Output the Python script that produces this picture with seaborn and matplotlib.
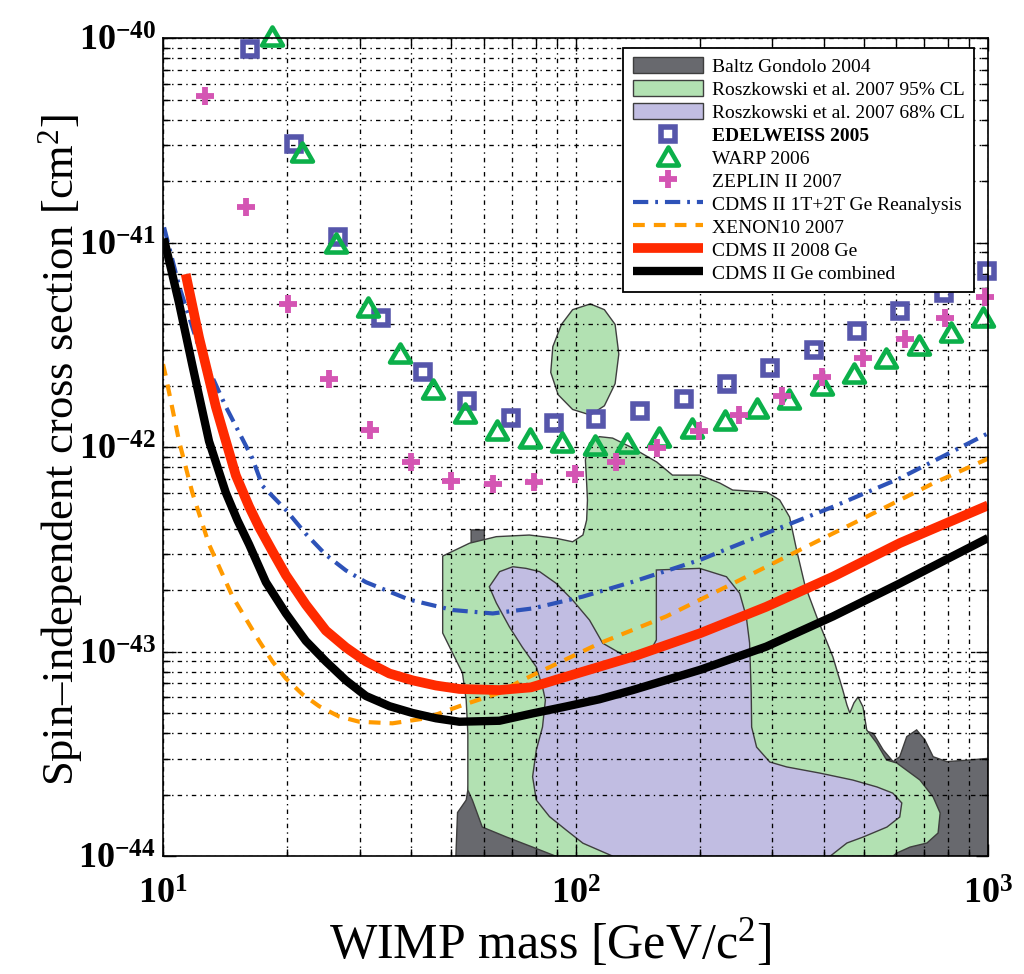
import numpy as np
import matplotlib
matplotlib.use("Agg")
import matplotlib.pyplot as plt
import seaborn as sns
from matplotlib.path import Path
from matplotlib.markers import MarkerStyle
from matplotlib.ticker import FixedLocator, NullFormatter, LogLocator

plt.rcParams['font.family'] = ['Liberation Serif', 'DejaVu Serif']
plt.rcParams['mathtext.fontset'] = 'custom'
plt.rcParams['mathtext.rm'] = 'Liberation Serif'
plt.rcParams['mathtext.it'] = 'Liberation Serif:italic'
plt.rcParams['mathtext.bf'] = 'Liberation Serif:bold'
plt.rcParams['lines.scale_dashes'] = False
plt.rcParams['axes.axisbelow'] = 'line'

# ---------------- data ----------------
# Excluded / favoured regions, vertices as log10(mass [GeV]) and log10(sigma [cm^2])
baltz_log_mass = [1.710, 1.714, 1.735, 1.743, 1.747, 1.747, 1.779, 1.779, 2.058, 2.641, 2.697,
                  2.722, 2.746, 2.770, 2.786, 2.803, 2.827, 2.847, 2.867, 2.900, 2.956, 3.0, 3.0]
baltz_log_sigma = [-44.0, -43.786, -43.725, -43.627, -42.478, -42.404, -42.404, -42.551, -43.236,
                   -43.407, -43.382, -43.399, -43.480, -43.537, -43.513, -43.415, -43.382, -43.431,
                   -43.513, -43.537, -43.529, -43.521, -44.0]

rosz95_log_mass = [1.678, 1.743, 1.808, 1.888, 1.953, 1.993, 2.018, 2.027, 2.029, 2.027, 2.024,
                   2.034, 2.058, 2.090, 2.138, 2.197, 2.235, 2.301, 2.350, 2.381, 2.464, 2.495,
                   2.519, 2.536, 2.556, 2.585, 2.624, 2.648, 2.658, 2.665, 2.675, 2.685, 2.697,
                   2.706, 2.730, 2.754, 2.779, 2.835, 2.867, 2.884, 2.879, 2.852, 2.811, 2.779,
                   2.769, 1.953, 1.896, 1.833, 1.774, 1.750, 1.739, 1.739, 1.735, 1.726, 1.678]
rosz95_log_sigma = [-42.532, -42.469, -42.437, -42.429, -42.445, -42.462, -42.429, -42.356, -42.258,
                    -42.175, -42.062, -41.979, -41.948, -41.955, -42.003, -42.072, -42.136, -42.136,
                    -42.175, -42.209, -42.219, -42.258, -42.341, -42.502, -42.673, -42.830, -43.025,
                    -43.187, -43.260, -43.299, -43.250, -43.221, -43.270, -43.382, -43.446, -43.529,
                    -43.544, -43.627, -43.710, -43.788, -43.886, -43.935, -43.955, -43.984, -44.0,
                    -44.0, -43.955, -43.906, -43.857, -43.725, -43.676, -43.397, -43.236, -43.104,
                    -42.908]
rosz95_island_log_mass = [1.940, 1.945, 1.966, 1.993, 2.036, 2.070, 2.096, 2.105, 2.096, 2.070,
                          2.036, 1.993, 1.958]
rosz95_island_log_sigma = [-41.634, -41.508, -41.399, -41.327, -41.299, -41.327, -41.399, -41.544,
                           -41.689, -41.797, -41.842, -41.815, -41.743]

rosz68_log_mass = [1.791, 1.816, 1.848, 1.880, 1.913, 1.953, 1.993, 2.034, 2.066, 2.123, 2.180,
                   2.196, 2.196, 2.301, 2.366, 2.398, 2.414, 2.422, 2.426, 2.427, 2.439, 2.471,
                   2.512, 2.592, 2.672, 2.731, 2.769, 2.791, 2.786, 2.755, 2.697, 2.658, 2.617,
                   2.091, 2.018, 1.977, 1.937, 1.905, 1.896, 1.905, 1.920, 1.927, 1.920, 1.905,
                   1.871, 1.840, 1.808]
rosz68_log_sigma = [-42.682, -42.608, -42.584, -42.592, -42.608, -42.665, -42.747, -42.845, -42.958,
                    -43.024, -43.001, -42.942, -42.600, -42.592, -42.633, -42.714, -42.828, -42.957,
                    -43.202, -43.368, -43.466, -43.539, -43.563, -43.593, -43.627, -43.661, -43.691,
                    -43.739, -43.808, -43.857, -43.906, -43.935, -44.0, -44.0, -43.936, -43.871,
                    -43.806, -43.725, -43.611, -43.480, -43.368, -43.236, -43.172, -43.074, -42.977,
                    -42.879, -42.761]

# Experimental limits (points)
edelweiss_mass = [16.23, 20.8, 26.49, 33.77, 42.76, 54.46, 69.8, 88.5, 112.3, 143.6, 183.2, 232.7,
                  295.8, 378.0, 481.3, 611.6, 783.3, 994.5]
edelweiss_sigma = [8.84e-41, 3.04e-41, 1.07e-41, 4.30e-42, 2.34e-42, 1.69e-42, 1.39e-42, 1.32e-42,
                   1.38e-42, 1.50e-42, 1.73e-42, 2.03e-42, 2.44e-42, 3.00e-42, 3.70e-42, 4.62e-42,
                   5.68e-42, 7.28e-42]

warp_mass = [18.36, 21.78, 26.26, 31.33, 37.54, 45.10, 53.99, 64.69, 77.56, 92.8, 111.2, 133.0,
             159.7, 191.8, 229.8, 275.0, 328.9, 395.5, 473.8, 566.8, 679.2, 811.8, 972.5]
warp_sigma = [1.03e-40, 2.79e-41, 9.94e-42, 4.87e-42, 2.88e-42, 1.92e-42, 1.47e-42, 1.22e-42,
              1.11e-42, 1.06e-42, 1.03e-42, 1.05e-42, 1.12e-42, 1.24e-42, 1.36e-42, 1.56e-42,
              1.73e-42, 2.01e-42, 2.32e-42, 2.74e-42, 3.17e-42, 3.67e-42, 4.34e-42]

zeplin_mass = [12.65, 15.93, 20.04, 25.19, 31.72, 39.93, 49.89, 63.07, 79.35, 99.56, 125.6, 158.0,
               198.7, 249.5, 315.9, 395.8, 498.0, 628.8, 788.0, 985.6]
zeplin_sigma = [5.22e-41, 1.50e-41, 5.01e-42, 2.16e-42, 1.21e-42, 8.47e-43, 6.87e-43, 6.63e-43,
                6.79e-43, 7.39e-43, 8.49e-43, 9.89e-43, 1.20e-42, 1.44e-42, 1.78e-42, 2.21e-42,
                2.72e-42, 3.40e-42, 4.28e-42, 5.46e-42]

# Experimental limits (curves)
cdms_reana_mass = [10.06, 10.94, 12.23, 14.2, 16.47, 17.42, 19.86, 22.2, 24.82, 27.76, 31.05, 39.5,
                   50.4, 63.0, 78.8, 104.0, 137.7, 200.0, 290.0, 421.0, 611.0, 1000.0]
cdms_reana_sigma = [1.19e-41, 6.15e-42, 3.06e-42, 1.58e-42, 8.83e-43, 6.48e-43, 4.94e-43, 3.77e-43,
                    2.98e-43, 2.50e-43, 2.19e-43, 1.80e-43, 1.60e-43, 1.54e-43, 1.63e-43, 1.86e-43,
                    2.20e-43, 2.81e-43, 3.80e-43, 5.12e-43, 7.05e-43, 1.17e-42]

xenon_mass = [10.0, 10.15, 10.94, 11.78, 12.93, 14.73, 17.1, 18.42, 19.86, 21.8, 23.9, 26.7, 29.9,
              36.0, 43.4, 52.3, 65.4, 73.1, 114.3, 166.0, 241.0, 350.0, 508.0, 737.0, 1000.0]
xenon_sigma = [2.55e-42, 2.24e-42, 1.07e-42, 6.0e-43, 3.35e-43, 1.87e-43, 1.13e-43, 8.97e-44,
               7.4e-44, 6.19e-44, 5.42e-44, 4.83e-44, 4.55e-44, 4.47e-44, 4.73e-44, 5.42e-44,
               6.3e-44, 7.15e-44, 1.10e-43, 1.49e-43, 2.16e-43, 3.15e-43, 4.58e-43, 6.67e-43,
               8.8e-43]

cdms2008_mass = [11.35, 12.23, 13.43, 15.02, 16.17, 17.1, 18.42, 19.86, 22.2, 24.82, 27.76, 31.05,
                 35.4, 40.29, 45.9, 52.3, 65.4, 78.0, 94.8, 137.7, 200.0, 290.0, 421.0, 611.0,
                 1000.0]
cdms2008_sigma = [7.03e-42, 3.44e-42, 1.58e-42, 7.28e-43, 5.13e-43, 4.07e-43, 3.10e-43, 2.37e-43,
                  1.70e-43, 1.27e-43, 1.05e-43, 8.97e-44, 7.83e-44, 7.25e-44, 6.84e-44, 6.58e-44,
                  6.5e-44, 6.7e-44, 7.55e-44, 9.46e-44, 1.23e-43, 1.66e-43, 2.33e-43, 3.40e-43,
                  5.2e-43]

combined_mass = [10.05, 10.94, 11.78, 12.93, 14.2, 15.15, 16.17, 17.76, 19.86, 22.2, 24.82, 27.76,
                 31.05, 35.4, 40.29, 45.9, 52.3, 65.4, 78.8, 94.8, 114.3, 137.7, 200.0, 290.0,
                 421.0, 611.0, 1000.0]
combined_sigma = [1.05e-41, 5.06e-42, 2.52e-42, 1.07e-42, 6.0e-43, 4.40e-43, 3.35e-43, 2.19e-43,
                  1.54e-43, 1.13e-43, 8.97e-44, 7.25e-44, 6.08e-44, 5.42e-44, 5.02e-44, 4.73e-44,
                  4.55e-44, 4.6e-44, 5.0e-44, 5.4e-44, 5.86e-44, 6.5e-44, 8.15e-44, 1.06e-43,
                  1.49e-43, 2.16e-43, 3.6e-43]

labels = ['Baltz Gondolo 2004', 'Roszkowski et al. 2007 95% CL', 'Roszkowski et al. 2007 68% CL',
          'EDELWEISS 2005', 'WARP 2006', 'ZEPLIN II 2007', 'CDMS II 1T+2T Ge Reanalysis',
          'XENON10 2007', 'CDMS II 2008 Ge', 'CDMS II Ge combined']

x_ticks = [10, 100, 1000]
x_ticklabels = [r'$\mathbf{10^{1}}$', r'$\mathbf{10^{2}}$', r'$\mathbf{10^{3}}$']
y_ticks = [1e-44, 1e-43, 1e-42, 1e-41, 1e-40]
y_ticklabels = [r'$\mathbf{10^{-44}}$', r'$\mathbf{10^{-43}}$', r'$\mathbf{10^{-42}}$',
                r'$\mathbf{10^{-41}}$', r'$\mathbf{10^{-40}}$']

# ---------------- styling ----------------
c_baltz = '#68696e'
c_green = '#b2e1b2'
c_purple = '#c1bde2'
c_edge = '#3e3e3e'
c_square = '#5656ab'
c_tri = '#0cb04a'
c_plus = '#d455b3'
c_blue = '#2d52b8'
c_orange = '#ff9a00'
c_red = '#ff2a00'

fig = plt.figure(figsize=(10.24, 9.74), dpi=100)
ax = fig.add_axes([163 / 1024, 1 - 856.3 / 974, 825 / 1024, 818 / 974])
ax.set_xscale('log')
ax.set_yscale('log')
ax.set_xlim(10, 1000)
ax.set_ylim(1e-44, 1e-40)


def pow10(a):
    return 10.0 ** np.asarray(a)


baltz_patch = ax.fill(pow10(baltz_log_mass), pow10(baltz_log_sigma), facecolor=c_baltz,
                      edgecolor=c_edge, linewidth=1.0, zorder=1.0)[0]
green_patch = ax.fill(pow10(rosz95_log_mass), pow10(rosz95_log_sigma), facecolor=c_green,
                      edgecolor=c_edge, linewidth=1.0, zorder=1.1)[0]
ax.fill(pow10(rosz95_island_log_mass), pow10(rosz95_island_log_sigma), facecolor=c_green,
        edgecolor=c_edge, linewidth=1.0, zorder=1.1)
purple_patch = ax.fill(pow10(rosz68_log_mass), pow10(rosz68_log_sigma), facecolor=c_purple,
                       edgecolor=c_edge, linewidth=1.0, zorder=1.2)[0]

# limit curves
curve_specs = [
    (cdms_reana_mass, cdms_reana_sigma, c_blue, 3.0, (0, (11, 5, 2, 5))),
    (xenon_mass, xenon_sigma, c_orange, 3.0, (0, (8.5, 6.5))),
    (cdms2008_mass, cdms2008_sigma, c_red, 7.0, '-'),
    (combined_mass, combined_sigma, 'black', 6.0, '-'),
]
curve_lines = []
for i, (m, s, col, lw, ls) in enumerate(curve_specs):
    sns.lineplot(x=m, y=s, ax=ax, estimator=None, sort=False, color=col,
                 linewidth=lw, linestyle=ls, legend=False, zorder=3 + 0.1 * i)
    ln = ax.lines[-1]
    ln.set_solid_capstyle('butt')
    ln.set_dash_capstyle('butt')
    ln.set_solid_joinstyle('round')
    curve_lines.append(ln)

# point limits
tri_path = Path([(-1, -0.866), (1, -0.866), (0, 0.866), (-1, -0.866)], closed=True)
tri_marker = MarkerStyle(tri_path, joinstyle='miter')

marker_specs = [
    (edelweiss_mass, edelweiss_sigma, c_square, 's', 10.0, 4.0, 'none'),
    (warp_mass, warp_sigma, c_tri, tri_marker, 15.0, 3.3, 'none'),
    (zeplin_mass, zeplin_sigma, c_plus, '+', 13.5, 4.2, c_plus),
]
marker_lines = []
for m, s, col, mk, ms, mew, mfc in marker_specs:
    sns.lineplot(x=m, y=s, ax=ax, estimator=None, sort=False, color=col, linestyle='',
                 marker=mk, markersize=ms, markeredgewidth=mew, markeredgecolor=col,
                 markerfacecolor=mfc, legend=False, zorder=5)
    ln = ax.lines[-1]
    ln.set_clip_on(False)
    marker_lines.append(ln)

# grid, ticks, spines
ax.grid(True, which='both', color='black', linestyle=(0, (3.2, 3.0, 1.0, 3.0)), linewidth=0.95)
ax.xaxis.set_major_locator(FixedLocator(x_ticks))
ax.yaxis.set_major_locator(FixedLocator(y_ticks))
ax.xaxis.set_minor_locator(LogLocator(base=10, subs=np.arange(2, 10)))
ax.yaxis.set_minor_locator(LogLocator(base=10, subs=np.arange(2, 10), numticks=20))
ax.xaxis.set_minor_formatter(NullFormatter())
ax.yaxis.set_minor_formatter(NullFormatter())
ax.set_xticklabels(x_ticklabels, fontsize=26)
ax.set_yticklabels(y_ticklabels, fontsize=26)
ax.tick_params(which='both', direction='in', top=True, right=True, width=1.0, colors='black')
ax.tick_params(which='major', length=9)
ax.tick_params(which='minor', length=5)
ax.tick_params(axis='x', which='major', pad=16)
ax.tick_params(axis='y', which='major', pad=5)
for sp in ax.spines.values():
    sp.set_linewidth(1.2)
    sp.set_zorder(6)

ax.set_xlabel('WIMP mass [GeV/c$^2$]', fontsize=36)
ax.xaxis.set_label_coords(0.469, -0.074)
ax.set_ylabel('Spin\u2013independent cross section [cm$^2$]', fontsize=32)
ax.yaxis.set_label_coords(-0.095, 0.497)

handles = [baltz_patch, green_patch, purple_patch] + marker_lines + curve_lines
leg = ax.legend(handles, labels, loc='upper right', bbox_to_anchor=(0.9835, 0.9885),
                borderaxespad=0, frameon=True, fancybox=False, framealpha=1,
                edgecolor='black', prop={'family': 'Liberation Serif', 'size': 14},
                handlelength=3.6, handleheight=0.82, labelspacing=0.24,
                handletextpad=0.45, borderpad=0.5, numpoints=1)
leg.get_frame().set_linewidth(1.3)
leg.set_zorder(10)
leg.get_texts()[3].set_fontweight('bold')

fig.savefig('out.png', dpi=100)
